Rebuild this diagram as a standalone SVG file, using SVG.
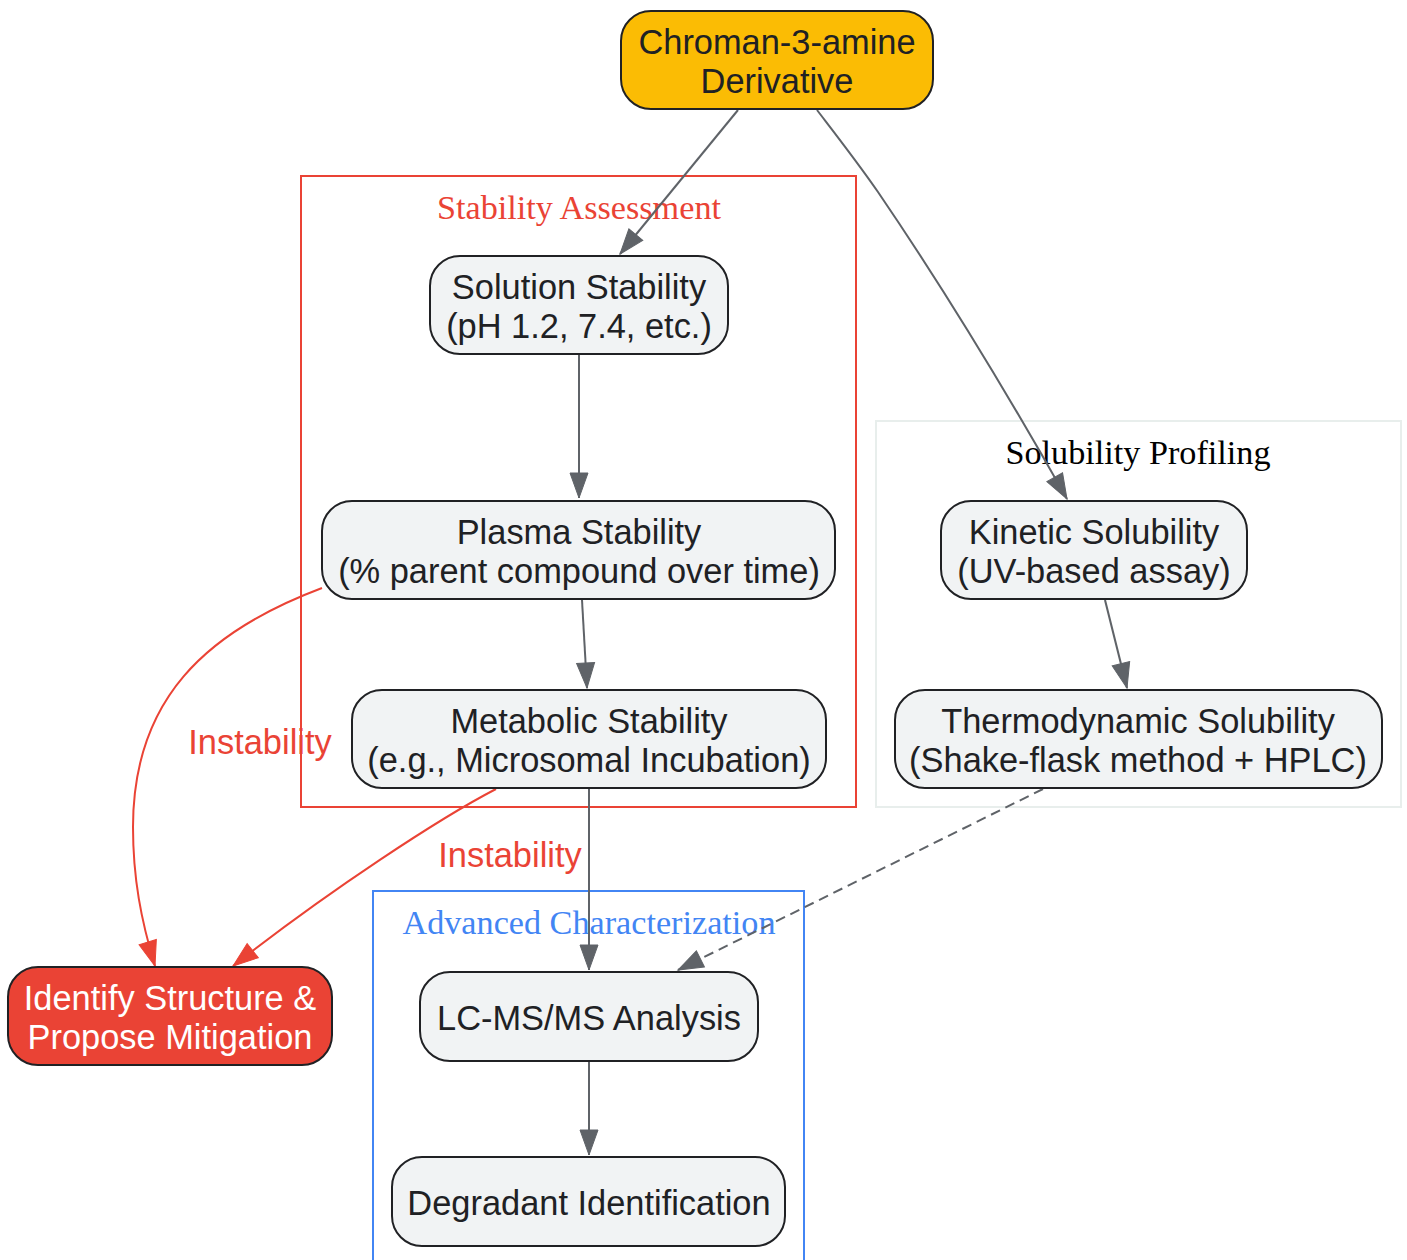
<svg xmlns="http://www.w3.org/2000/svg" width="1407" height="1260" viewBox="0 0 1407 1260">
<defs>
<style>
.node rect{fill:#F1F3F4;stroke:#202124;stroke-width:2}
.node text{font-family:"Liberation Sans",Arial,sans-serif;font-size:34.4px;fill:#202124;text-anchor:middle}
.clabel{font-family:"Liberation Serif","Times New Roman",serif;font-size:34.2px;text-anchor:middle}
.edge{fill:none;stroke:#5F6368;stroke-width:2}
.red{stroke:#EA4335}
.elabel{font-family:"Liberation Sans",Arial,sans-serif;font-size:34.4px;fill:#EA4335;text-anchor:middle}
</style>
<marker id="ah" markerUnits="userSpaceOnUse" markerWidth="28" markerHeight="22" refX="26" refY="10" orient="auto" viewBox="0 0 28 22">
<path d="M1,1 L26,10 L1,19 z" fill="#5F6368" stroke="#5F6368" stroke-width="1" stroke-dasharray="none"/>
</marker>
<marker id="ahr" markerUnits="userSpaceOnUse" markerWidth="28" markerHeight="22" refX="26" refY="10" orient="auto" viewBox="0 0 28 22">
<path d="M1,1 L26,10 L1,19 z" fill="#EA4335" stroke="#EA4335" stroke-width="1"/>
</marker>
</defs>
<rect width="1407" height="1260" fill="#FFFFFF"/>
<g id="clusters">
<g id="cluster_stability">
<rect x="301" y="176" width="555" height="631" fill="none" stroke="#EA4335" stroke-width="2"/>
<text class="clabel" x="579" y="219" fill="#EA4335">Stability Assessment</text>
</g>
<g id="cluster_solubility">
<rect x="876" y="421" width="525" height="386" fill="none" stroke="#E8EEEC" stroke-width="2"/>
<text class="clabel" x="1138" y="464" fill="#000000">Solubility Profiling</text>
</g>
<g id="cluster_advanced">
<rect x="373" y="891" width="431" height="380" fill="none" stroke="#4285F4" stroke-width="2"/>
<text class="clabel" x="589" y="934" fill="#4285F4">Advanced Characterization</text>
</g>
</g>
<g id="edges">
<path class="edge" d="M738,110 L620,254" marker-end="url(#ah)"/>
<path class="edge" d="M817,110 C840,140 858,163 878,192 C940,283 1010,398 1067,499" marker-end="url(#ah)"/>
<path class="edge" d="M579,354 L579,498" marker-end="url(#ah)"/>
<path class="edge" d="M582,600 L587,688" marker-end="url(#ah)"/>
<path class="edge" d="M1105,600 L1127,688" marker-end="url(#ah)"/>
<path class="edge" d="M589,789 L589,970" marker-end="url(#ah)"/>
<path class="edge" d="M1043,789 L678,970" stroke-dasharray="10,6" marker-end="url(#ah)"/>
<path class="edge" d="M589,1062 L589,1155" marker-end="url(#ah)"/>
<path class="edge red" d="M322,588 C205,632 133,700 133,827 C133,878 141,920 155,966" marker-end="url(#ahr)"/>
<path class="edge red" d="M496,789 C440,818 330,890 233,966" marker-end="url(#ahr)"/>
<text class="elabel" x="260" y="754">Instability</text>
<text class="elabel" x="510" y="867">Instability</text>
</g>
<g id="n_chroman" class="node">
<rect x="621" y="11" width="312" height="98" rx="30" style="fill:#FBBC04"/>
<text x="777" y="54">Chroman-3-amine</text>
<text x="777" y="93">Derivative</text>
</g>
<g id="n_solution" class="node">
<rect x="430" y="256" width="298" height="98" rx="30"/>
<text x="579" y="299">Solution Stability</text>
<text x="579" y="338">(pH 1.2, 7.4, etc.)</text>
</g>
<g id="n_plasma" class="node">
<rect x="322" y="501" width="513" height="98" rx="30"/>
<text x="579" y="544">Plasma Stability</text>
<text x="579" y="583">(% parent compound over time)</text>
</g>
<g id="n_metabolic" class="node">
<rect x="352" y="690" width="474" height="98" rx="30"/>
<text x="589" y="733">Metabolic Stability</text>
<text x="589" y="772">(e.g., Microsomal Incubation)</text>
</g>
<g id="n_kinetic" class="node">
<rect x="941" y="501" width="306" height="98" rx="30"/>
<text x="1094" y="544">Kinetic Solubility</text>
<text x="1094" y="583">(UV-based assay)</text>
</g>
<g id="n_thermo" class="node">
<rect x="895" y="690" width="487" height="98" rx="30"/>
<text x="1138" y="733">Thermodynamic Solubility</text>
<text x="1138" y="772">(Shake-flask method + HPLC)</text>
</g>
<g id="n_identify" class="node">
<rect x="8" y="967" width="324" height="98" rx="30" style="fill:#EA4335"/>
<text x="170" y="1010" style="fill:#FFFFFF">Identify Structure &amp;</text>
<text x="170" y="1049" style="fill:#FFFFFF">Propose Mitigation</text>
</g>
<g id="n_lcms" class="node">
<rect x="420" y="972" width="338" height="89" rx="30"/>
<text x="589" y="1030">LC-MS/MS Analysis</text>
</g>
<g id="n_degradant" class="node">
<rect x="392" y="1157" width="393" height="89" rx="30"/>
<text x="589" y="1215">Degradant Identification</text>
</g>
</svg>
